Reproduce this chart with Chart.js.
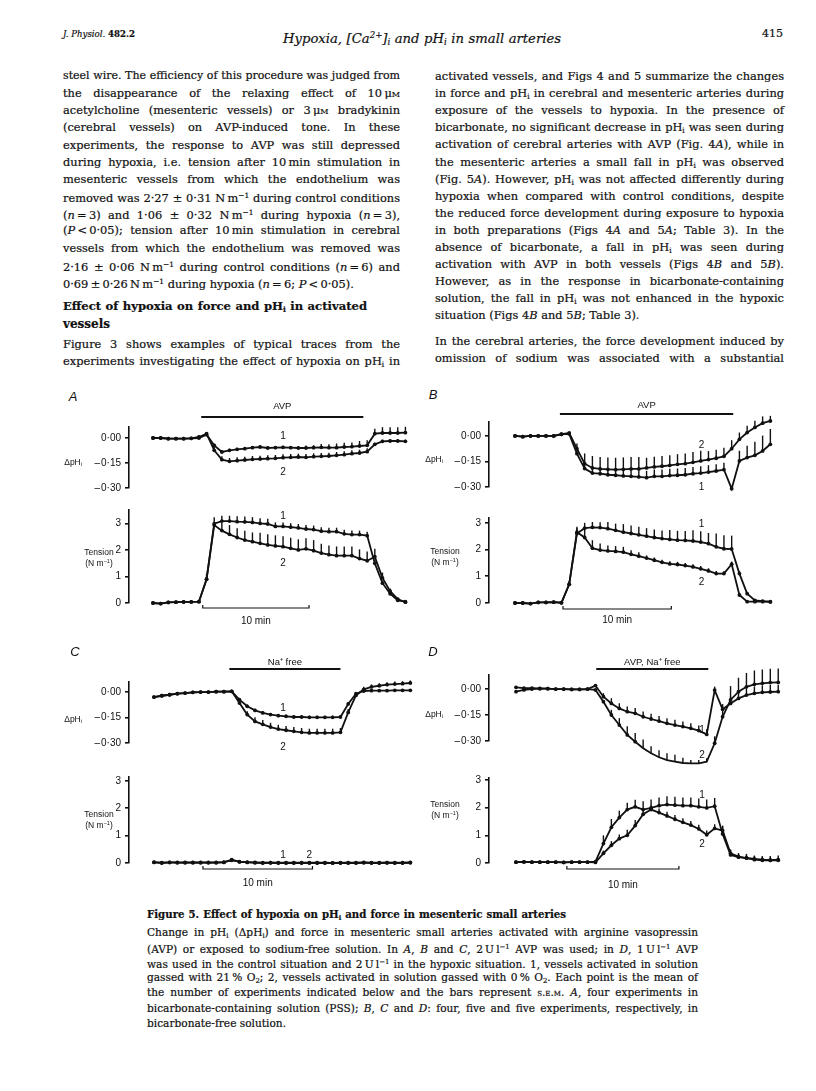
<!DOCTYPE html>
<html>
<head>
<meta charset="utf-8">
<script src="https://cdn.jsdelivr.net/npm/chart.js@4.4.1/dist/chart.umd.min.js"></script>
<style>
  body { margin: 0; background: #fff; }
  #page { position: relative; width: 816px; height: 1091px; overflow: hidden; background: #fff; color: #111;
          font-family: "DejaVu Serif", "Liberation Serif", serif; }
  .ln { position: absolute; white-space: nowrap; line-height: 16px; height: 16px; -webkit-text-stroke: 0.2px #111; }
  .sb { font-size: 65%; vertical-align: -0.28em; }
  .sp { font-size: 65%; vertical-align: 0.55em; }
  .sc { font-variant: small-caps; }
  .lab { position: absolute; white-space: nowrap; font-family: "Liberation Sans", Arial, sans-serif; font-size: 8.5px;
         line-height: 10px; color: #111; }
  .pl { font-size: 13px; font-style: italic; }
  canvas { position: absolute; }
</style>
</head>
<body>
<div id="page"></div>
<script>
// sample number along each trace (about 43 s apart, 14 samples = 10 min)
const sampleIdx = [0,1,2,3,4,5,6,7,8,9,10,11,12,13,14,15,16,17,18,19,20,21,22,23,24,25,26,27,28,29,30,31,32,33];

// A: PSS, AVP
const pHA1 = [0,0,-0.004,-0.004,-0.004,-0.002,0,0.02,-0.044,-0.084,-0.074,-0.068,-0.064,-0.058,-0.054,-0.06,-0.058,-0.056,-0.058,-0.06,-0.06,-0.058,-0.056,-0.058,-0.058,-0.054,-0.052,-0.048,-0.044,0.026,0.03,0.03,0.03,0.032];
const pHA2 = [0,0,-0.004,-0.004,-0.004,-0.002,0.006,0.026,-0.074,-0.13,-0.14,-0.136,-0.132,-0.128,-0.126,-0.124,-0.122,-0.118,-0.116,-0.114,-0.116,-0.112,-0.11,-0.108,-0.104,-0.1,-0.094,-0.09,-0.082,-0.038,-0.02,-0.018,-0.018,-0.02];
const pHA1e = [0,0,0,0,0,0,0.01,0.01,0.01,0.01,0.01,0.01,0.01,0.01,0.01,0.01,0.01,0.01,0.01,0.01,0.015,0.015,0.02,0.02,0.025,0.025,0.025,0.03,0.03,0.03,0.035,0.035,0.035,0.035];
const pHA2e = [0,0,0,0,0,0,0.01,0.01,0.02,0.02,0.02,0.02,0.02,0.02,0.02,0.02,0.02,0.02,0.02,0.02,0.02,0.02,0.02,0.02,0.02,0.02,0.02,0.02,0.02,0.01,0.01,0.01,0.01,0.01];
const tenA1 = [0,-0.02,0.02,0.03,0.04,0.04,0.05,0.9,3.0,3.1,3.1,3.08,3.07,3.05,3.01,2.99,2.9,2.9,2.87,2.84,2.8,2.78,2.72,2.7,2.7,2.62,2.59,2.59,2.55,1.5,0.75,0.35,0.1,0.05];
const tenA2 = [0,-0.02,0.02,0.03,0.04,0.04,0.05,0.9,2.95,2.74,2.6,2.48,2.38,2.32,2.26,2.2,2.16,2.13,2.07,2.01,2.05,1.98,1.89,1.83,1.79,1.79,1.79,1.68,1.6,1.75,0.95,0.45,0.15,0.03];
const tenA1e = [0,0,0,0,0,0,0,0.2,0.25,0.2,0.2,0.2,0.2,0.2,0.2,0.2,0.15,0.15,0.15,0.15,0.15,0.15,0.15,0.15,0.15,0.15,0.15,0.15,0.15,0.15,0.1,0.1,0.05,0];
const tenA2e = [0,0,0,0,0,0,0,0.1,0.1,0.3,0.35,0.35,0.35,0.35,0.4,0.4,0.4,0.4,0.4,0.4,0.4,0.4,0.35,0.35,0.35,0.35,0.35,0.35,0.35,0.3,0.2,0.1,0.05,0];

// B: bicarbonate-free, AVP
const pHB1 = [0,-0.004,0,0,0,0,0.01,0.012,-0.104,-0.192,-0.218,-0.222,-0.228,-0.231,-0.235,-0.237,-0.241,-0.245,-0.237,-0.237,-0.233,-0.231,-0.228,-0.222,-0.218,-0.212,-0.206,-0.198,-0.31,-0.147,-0.127,-0.114,-0.088,-0.049];
const pHB2 = [0,-0.004,0,0,0,0,0.01,0.018,-0.075,-0.163,-0.188,-0.194,-0.196,-0.198,-0.196,-0.194,-0.194,-0.188,-0.182,-0.178,-0.173,-0.167,-0.163,-0.155,-0.147,-0.139,-0.131,-0.12,-0.075,-0.02,0.02,0.05,0.075,0.088];
const pHB1e = [0,0,0,0,0,0,0,0,0.02,0.03,0.04,0.04,0.04,0.04,0.04,0.04,0.04,0.04,0.04,0.04,0.04,0.04,0.04,0.04,0.04,0.04,0.04,0.04,0,0.06,0.07,0.08,0.09,0.09];
const pHB2e = [0,0,0,0,0,0,0,0,0.03,0.06,0.07,0.07,0.07,0.07,0.07,0.07,0.07,0.06,0.06,0.06,0.06,0.06,0.06,0.06,0.06,0.05,0.05,0.05,0.05,0.04,0.04,0.04,0.04,0.03];
const tenB1 = [0,0,-0.02,0.02,0.02,0.03,0.01,0.7,2.6,2.8,2.83,2.82,2.78,2.72,2.65,2.6,2.55,2.5,2.45,2.41,2.38,2.35,2.34,2.32,2.28,2.22,2.1,2.03,2.02,1.1,0.35,0.1,0.07,0.05];
const tenB2 = [0,0,-0.02,0.02,0.02,0.03,0.01,0.7,2.65,2.45,2.05,1.98,1.95,1.93,1.9,1.82,1.75,1.68,1.6,1.52,1.46,1.44,1.4,1.35,1.28,1.2,1.1,1.1,1.45,0.3,0.05,0.05,0.05,0.04];
const tenB1e = [0,0,0,0,0,0,0,0.1,0.2,0.2,0.2,0.2,0.25,0.25,0.3,0.3,0.3,0.3,0.3,0.3,0.35,0.35,0.35,0.4,0.4,0.4,0.5,0.5,0.5,0.1,0.05,0,0,0];
const tenB2e = [0,0,0,0,0,0,0,0.1,0.2,0.3,0.3,0.25,0.2,0.2,0.2,0.15,0.15,0.1,0.1,0.1,0.1,0.1,0.1,0.1,0.1,0.1,0.1,0.1,0.1,0.05,0,0,0,0];

// C: bicarbonate-free, Na+ free
const pHC1 = [-0.03,-0.022,-0.016,-0.01,-0.006,-0.002,0,0,0.002,0.002,0.004,-0.045,-0.084,-0.108,-0.123,-0.133,-0.139,-0.143,-0.147,-0.147,-0.149,-0.149,-0.149,-0.149,-0.147,-0.07,-0.01,0.006,0.008,0.008,0.008,0.01,0.01,0.01];
const pHC2 = [-0.03,-0.022,-0.016,-0.01,-0.006,-0.002,0,0,0.002,0.002,0.004,-0.065,-0.133,-0.173,-0.19,-0.206,-0.218,-0.225,-0.231,-0.237,-0.241,-0.241,-0.241,-0.241,-0.237,-0.12,-0.02,0.016,0.03,0.037,0.043,0.047,0.049,0.053];
const pHC1e = [0,0,0,0,0,0,0,0,0,0,0,0.005,0.01,0.01,0.01,0.01,0.01,0.01,0.01,0.01,0.01,0.01,0.01,0.01,0.01,0.01,0.01,0.005,0.005,0.005,0.005,0.005,0.005,0.005];
const pHC2e = [0,0,0,0,0,0,0,0,0,0,0,0.01,0.02,0.025,0.025,0.025,0.025,0.025,0.025,0.025,0.025,0.025,0.025,0.025,0.025,0.02,0.015,0.015,0.015,0.015,0.015,0.015,0.015,0.015];
const tenC1 = [0.03,0,0.02,0.02,0.01,0.02,0.02,0.01,0.02,0.02,0.12,0.04,0.03,0.01,0.01,0.01,0,0.01,0,0.01,0.01,0,0,0,0.01,0,0.01,0.02,0,0.01,0.01,0,0.01,0.02];
const tenC2 = [0.02,0.01,0.02,0.01,0.02,0.01,0.01,0.02,0.01,0.03,0.1,0.05,0.02,0.02,0,0.01,0.01,0,0.01,0,0,0.01,0.01,0,0,0.01,0,0.01,0.01,0,0.01,0.01,0,0.01];

// D: bicarbonate-free, AVP + Na+ free
const pHD1 = [0.01,0.005,0.005,0.003,0.002,0,0,-0.002,-0.002,0,0.02,-0.044,-0.083,-0.112,-0.131,-0.14,-0.16,-0.173,-0.185,-0.198,-0.208,-0.217,-0.227,-0.24,-0.262,-0.006,-0.117,-0.083,-0.054,-0.035,-0.025,-0.019,-0.017,-0.015];
const pHD2 = [-0.015,-0.005,0,0.002,0.002,0,0,-0.002,-0.002,0,-0.005,-0.073,-0.15,-0.208,-0.265,-0.304,-0.342,-0.371,-0.394,-0.41,-0.419,-0.427,-0.429,-0.429,-0.419,-0.313,-0.16,-0.063,-0.015,0.013,0.027,0.033,0.037,0.038];
const pHD1e = [0,0,0,0,0,0,0,0,0,0,0,0.02,0.03,0.03,0.03,0.03,0.03,0.03,0.03,0.03,0.03,0.03,0.03,0.03,0.03,0.02,0.03,0.04,0.04,0.04,0.04,0.04,0.04,0.04];
const pHD2e = [0,0,0,0,0,0,0,0,0,0,0,0,0.03,0.04,0.05,0.05,0.05,0.04,0.04,0.04,0.04,0.03,0.02,0.02,0.02,0.04,0.06,0.08,0.08,0.08,0.08,0.08,0.08,0.08];
const tenD1 = [0.03,0.04,0.03,0.03,0.03,0.03,0.02,0.03,0.03,0.03,0.05,0.7,1.29,1.64,1.93,2.03,1.93,1.99,2.07,2.11,2.09,2.07,2.07,2.03,1.99,2.05,1.05,0.29,0.21,0.18,0.12,0.1,0.1,0.12];
const tenD2 = [0.03,0.04,0.03,0.03,0.03,0.03,0.02,0.03,0.03,0.03,0.02,0.35,0.64,0.88,1.0,1.35,1.76,1.93,1.82,1.7,1.58,1.47,1.37,1.23,1.02,1.25,1.17,0.35,0.23,0.18,0.15,0.12,0.1,0.1];
const tenD1e = [0,0,0,0,0,0,0,0,0,0,0,0.3,0.3,0.25,0.25,0.25,0.3,0.3,0.3,0.3,0.3,0.3,0.3,0.3,0.3,0.3,0.3,0.2,0.15,0.15,0.15,0.15,0.15,0.15];
const tenD2e = [0,0,0,0,0,0,0,0,0,0,0,0.1,0.15,0.15,0.2,0.2,0.15,0.15,0.15,0.15,0.15,0.15,0.15,0.15,0.15,0.15,0.15,0.1,0.1,0.1,0.1,0.1,0.1,0.1];

const pHTicks = [-0.30, -0.15, 0];
const tensionTicks = [0, 1, 2, 3];

const INK = '#111';
const SANS = '"Liberation Sans", Arial, sans-serif';
const AXW = 50;
const page = document.getElementById('page');

// the print uses a long dash for the minus sign
const fmtPH = v => (v < 0 ? '\u2013\u200a' : '') + Math.abs(v).toFixed(2).replace('.', '\u00b7');
const fmtTen = v => String(v);

// error bars, curve numbers, stimulus bar and time scale bar
const figNotes = {
  id: 'figNotes',
  afterDatasetsDraw(chart) {
    const { ctx, scales: { x, y } } = chart;
    ctx.save();
    ctx.strokeStyle = INK;
    ctx.lineWidth = 1.4;
    chart.data.datasets.forEach(ds => {
      ds.data.forEach((p, i) => {
        const e = ds.err[i];
        if (!e) return;
        const px = x.getPixelForValue(p.x);
        ctx.beginPath();
        ctx.moveTo(px, y.getPixelForValue(p.y));
        ctx.lineTo(px, y.getPixelForValue(p.y + e));
        ctx.stroke();
      });
    });
    ctx.restore();
  },
  afterDraw(chart, args, o) {
    const { ctx, scales: { x, y } } = chart;
    const top = o.canvasTop;
    ctx.save();
    ctx.fillStyle = INK;
    ctx.strokeStyle = INK;
    ctx.font = '10px ' + SANS;
    ctx.textAlign = 'center';
    ctx.textBaseline = 'middle';
    (o.curveLabels || []).forEach(l => ctx.fillText(l.s, x.getPixelForValue(l.t), y.getPixelForValue(l.v)));
    if (o.stim) {
      const a = x.getPixelForValue(o.stim.from), b = x.getPixelForValue(o.stim.to);
      const by = o.stim.y - top;
      ctx.lineWidth = 1.8;
      ctx.beginPath(); ctx.moveTo(a, by); ctx.lineTo(b, by); ctx.stroke();
      ctx.font = '9.5px ' + SANS;
      ctx.fillText(o.stim.text, (a + b) / 2, o.stim.textY - top);
    }
    if (o.timeBar) {
      const a = x.getPixelForValue(o.timeBar.from), b = x.getPixelForValue(o.timeBar.to);
      const by = o.timeBar.y - top;
      ctx.lineWidth = 1.2;
      ctx.beginPath();
      ctx.moveTo(a, by - 3); ctx.lineTo(a, by); ctx.lineTo(b, by); ctx.lineTo(b, by - 3);
      ctx.stroke();
      ctx.font = '10px ' + SANS;
      ctx.fillText('10 min', (a + b) / 2, o.timeBar.textY - top);
    }
    ctx.restore();
  }
};

function plot(p) {
  const padTop = p.padTop, padBottom = p.padBottom, padRight = 4;
  const xMin = -(p.xStart - p.axisX) / p.step;
  const xMax = 33.6;
  const left = p.axisX - AXW;
  const top = p.axisTop - padTop;
  const width = AXW + (xMax - xMin) * p.step + padRight;
  const height = padTop + (p.axisBottom - p.axisTop) + padBottom;
  const cv = document.createElement('canvas');
  cv.width = Math.round(width); cv.height = Math.round(height);
  cv.style.left = left + 'px'; cv.style.top = top + 'px';
  page.appendChild(cv);
  new Chart(cv.getContext('2d'), {
    type: 'line',
    data: {
      datasets: p.series.map(s => ({
        data: sampleIdx.map((t, i) => ({ x: t, y: s.y[i] })),
        err: s.e || sampleIdx.map(() => 0),
        borderColor: INK, borderWidth: 1.8,
        pointRadius: 1.9, pointBackgroundColor: INK, pointBorderWidth: 0,
        tension: 0, clip: false
      }))
    },
    options: {
      responsive: false, animation: false, devicePixelRatio: 1,
      layout: { padding: { top: padTop, bottom: padBottom, left: 0, right: padRight } },
      plugins: {
        legend: { display: false }, tooltip: { enabled: false },
        figNotes: { canvasTop: top, curveLabels: p.curveLabels, stim: p.stim, timeBar: p.timeBar }
      },
      scales: {
        x: { type: 'linear', min: xMin, max: xMax, display: false },
        y: {
          min: p.yMin, max: p.yMax,
          afterFit(s) { s.width = AXW; },
          afterBuildTicks(s) { s.ticks = p.ticks.map(v => ({ value: v })); },
          border: { display: true, color: INK, width: 1.6 },
          grid: { drawOnChartArea: false, drawTicks: true, tickLength: 4, color: INK, lineWidth: 1.6 },
          ticks: { color: INK, padding: 4, font: { family: SANS, size: 10 }, callback: p.fmt }
        }
      }
    },
    plugins: [figNotes]
  });
}

// ---- panel A ----
plot({ axisX: 129, axisTop: 427, axisBottom: 488, xStart: 153, step: 7.64, yMin: -0.30, yMax: 0.066,
  ticks: pHTicks, fmt: fmtPH, padTop: 34, padBottom: 30,
  series: [{ y: pHA1, e: pHA1e }, { y: pHA2, e: pHA2e }],
  curveLabels: [{ t: 17, v: 0.012, s: '1' }, { t: 17, v: -0.204, s: '2' }],
  stim: { from: 6.3, to: 27.5, y: 417, text: 'AVP', textY: 406 } });
plot({ axisX: 129, axisTop: 508, axisBottom: 603, xStart: 153, step: 7.64, yMin: 0, yMax: 3.52,
  ticks: tensionTicks, fmt: fmtTen, padTop: 8, padBottom: 26,
  series: [{ y: tenA1, e: tenA1e }, { y: tenA2, e: tenA2e }],
  curveLabels: [{ t: 17, v: 3.3, s: '1' }, { t: 17, v: 1.52, s: '2' }],
  timeBar: { from: 6.5, to: 20.4, y: 608, textY: 621 } });

// ---- panel B ----
plot({ axisX: 489, axisTop: 422, axisBottom: 487, xStart: 515, step: 7.73, yMin: -0.30, yMax: 0.082,
  ticks: pHTicks, fmt: fmtPH, padTop: 34, padBottom: 30,
  series: [{ y: pHB1, e: pHB1e }, { y: pHB2, e: pHB2e }],
  curveLabels: [{ t: 24.1, v: -0.054, s: '2' }, { t: 24.1, v: -0.302, s: '1' }],
  stim: { from: 5.8, to: 28.2, y: 414, text: 'AVP', textY: 405 } });
plot({ axisX: 489, axisTop: 516, axisBottom: 603, xStart: 515, step: 7.73, yMin: 0, yMax: 3.18,
  ticks: tensionTicks, fmt: fmtTen, padTop: 8, padBottom: 26,
  series: [{ y: tenB1, e: tenB1e }, { y: tenB2, e: tenB2e }],
  curveLabels: [{ t: 24.1, v: 2.93, s: '1' }, { t: 24.1, v: 0.77, s: '2' }],
  timeBar: { from: 6.2, to: 20.2, y: 609, textY: 620 } });

// ---- panel C ----
plot({ axisX: 129, axisTop: 682, axisBottom: 743, xStart: 154, step: 7.76, yMin: -0.30, yMax: 0.059,
  ticks: pHTicks, fmt: fmtPH, padTop: 34, padBottom: 30,
  series: [{ y: pHC1, e: pHC1e }, { y: pHC2, e: pHC2e }],
  curveLabels: [{ t: 16.6, v: -0.094, s: '1' }, { t: 16.6, v: -0.324, s: '2' }],
  stim: { from: 9.7, to: 24.0, y: 669, text: 'Na\u207a free', textY: 662 } });
plot({ axisX: 129, axisTop: 775, axisBottom: 863, xStart: 154, step: 7.76, yMin: 0, yMax: 3.14,
  ticks: tensionTicks, fmt: fmtTen, padTop: 8, padBottom: 26,
  series: [{ y: tenC1 }, { y: tenC2 }],
  curveLabels: [{ t: 16.6, v: 0.29, s: '1' }, { t: 20.0, v: 0.29, s: '2' }],
  timeBar: { from: 6.3, to: 20.4, y: 869, textY: 883 } });

// ---- panel D ----
plot({ axisX: 489, axisTop: 675, axisBottom: 741, xStart: 516, step: 7.94, yMin: -0.30, yMax: 0.081,
  ticks: pHTicks, fmt: fmtPH, padTop: 34, padBottom: 30,
  series: [{ y: pHD1, e: pHD1e }, { y: pHD2, e: pHD2e }],
  curveLabels: [{ t: 23.4, v: -0.237, s: '1' }, { t: 23.4, v: -0.381, s: '2' }],
  stim: { from: 10.1, to: 24.2, y: 669, text: 'AVP, Na\u207a free', textY: 662 } });
plot({ axisX: 489, axisTop: 776, axisBottom: 863, xStart: 516, step: 7.94, yMin: 0, yMax: 3.07,
  ticks: tensionTicks, fmt: fmtTen, padTop: 8, padBottom: 26,
  series: [{ y: tenD1, e: tenD1e }, { y: tenD2, e: tenD2e }],
  curveLabels: [{ t: 23.4, v: 2.43, s: '1' }, { t: 23.4, v: 0.67, s: '2' }],
  timeBar: { from: 6.4, to: 20.5, y: 869, textY: 885 } });

// ---- figure labels (HTML text) ----
function lab(html, x, y, cls, align) {
  const d = document.createElement('div');
  d.className = 'lab' + (cls ? ' ' + cls : '');
  d.innerHTML = html;
  d.style.left = x + 'px'; d.style.top = y + 'px';
  d.style.transform = align === 'right' ? 'translate(-100%,-50%)' : 'translate(-50%,-50%)';
  page.appendChild(d);
}
const dpH = '\u0394pH<span class="sb">i</span>';
const tenLab = 'Tension<br>(N m<span class="sp">\u22121</span>)';
[['A', 73, 397, 82, 463, 99, 558], ['B', 433, 395, 443, 460, 445, 557],
 ['C', 75, 652, 82, 720, 99, 820], ['D', 433, 652, 443, 715, 445, 810]].forEach(([L, lx, ly, px, py, tx, ty]) => {
  lab(L, lx, ly, 'pl');
  lab(dpH, px, py, '', 'right');
  const t = document.createElement('div');
  t.className = 'lab';
  t.style.textAlign = 'center';
  t.style.lineHeight = '9px';
  t.innerHTML = tenLab;
  t.style.left = tx + 'px'; t.style.top = ty + 'px';
  t.style.transform = 'translate(-50%,-50%)';
  page.appendChild(t);
});

// ---- page text ----
function line(x, y, w, html, size, justify, style) {
  const d = document.createElement('div');
  d.className = 'ln';
  d.style.left = x + 'px';
  d.style.top = (y - 9) + 'px';
  d.style.width = w + 'px';
  d.style.fontSize = size + 'px';
  if (style) d.style.cssText += style;
  d.innerHTML = '<span>' + html + '</span>';
  page.appendChild(d);
  const sp = d.firstChild;
  let fs = size;
  while (sp.getBoundingClientRect().width > w && fs > 8) { fs -= 0.2; d.style.fontSize = fs + 'px'; }
  if (justify) {
    const n = (sp.textContent.match(/ /g) || []).length;
    if (n) sp.style.wordSpacing = ((w - sp.getBoundingClientRect().width) / n) + 'px';
  }
}

const sub = '<span class="sb">i</span>';
const inv = '<span class="sp">\u22121</span>';
const th = '\u2009';

line(63, 35, 72, '<i>J. Physiol.</i> <b>482.2</b>', 9, false);
line(283, 36, 278, '<i>Hypoxia, [Ca<span class="sp">2+</span>]' + sub + ' and pH' + sub + ' in small arteries</i>', 14, true);
line(762, 35, 24, '415', 11, false);

const leftCol = [
  'steel wire. The efficiency of this procedure was judged from',
  'the disappearance of the relaxing effect of 10' + th + '\u03bc<span class="sc">m</span>',
  'acetylcholine (mesenteric vessels) or 3' + th + '\u03bc<span class="sc">m</span> bradykinin',
  '(cerebral vessels) on AVP-induced tone. In these',
  'experiments, the response to AVP was still depressed',
  'during hypoxia, i.e. tension after 10' + th + 'min stimulation in',
  'mesenteric vessels from which the endothelium was',
  'removed was 2\u00b727 \u00b1 0\u00b731 N' + th + 'm' + inv + ' during control conditions',
  '(<i>n</i>' + th + '=' + th + '3) and 1\u00b706 \u00b1 0\u00b732 N' + th + 'm' + inv + ' during hypoxia (<i>n</i>' + th + '=' + th + '3),',
  '(<i>P</i>' + th + '&lt;' + th + '0\u00b705); tension after 10' + th + 'min stimulation in cerebral',
  'vessels from which the endothelium was removed was',
  '2\u00b716 \u00b1 0\u00b706 N' + th + 'm' + inv + ' during control conditions (<i>n</i>' + th + '=' + th + '6) and',
  '0\u00b769' + th + '\u00b1' + th + '0\u00b726' + th + 'N' + th + 'm' + inv + ' during hypoxia (<i>n</i>' + th + '=' + th + '6; <i>P</i>' + th + '&lt;' + th + '0\u00b705).'
];
leftCol.forEach((h, k) => line(63, 77 + k * 17.15, 337, h, 11.4, k < leftCol.length - 1));
line(63, 307, 304, '<b>Effect of hypoxia on force and pH' + sub + ' in activated</b>', 12, true);
line(63, 325, 100, '<b>vessels</b>', 12, false);
line(63, 345, 337, 'Figure 3 shows examples of typical traces from the', 11.4, true);
line(63, 362, 337, 'experiments investigating the effect of hypoxia on pH' + sub + ' in', 11.4, true);

const rightCol = [
  'activated vessels, and Figs 4 and 5 summarize the changes',
  'in force and pH' + sub + ' in cerebral and mesenteric arteries during',
  'exposure of the vessels to hypoxia. In the presence of',
  'bicarbonate, no significant decrease in pH' + sub + ' was seen during',
  'activation of cerebral arteries with AVP (Fig. 4<i>A</i>), while in',
  'the mesenteric arteries a small fall in pH' + sub + ' was observed',
  '(Fig. 5<i>A</i>). However, pH' + sub + ' was not affected differently during',
  'hypoxia when compared with control conditions, despite',
  'the reduced force development during exposure to hypoxia',
  'in both preparations (Figs 4<i>A</i> and 5<i>A</i>; Table 3). In the',
  'absence of bicarbonate, a fall in pH' + sub + ' was seen during',
  'activation with AVP in both vessels (Figs 4<i>B</i> and 5<i>B</i>).',
  'However, as in the response in bicarbonate-containing',
  'solution, the fall in pH' + sub + ' was not enhanced in the hypoxic',
  'situation (Figs 4<i>B</i> and 5<i>B</i>; Table 3).'
];
rightCol.forEach((h, k) => line(435, 77 + k * 17.1, 349, h, 11.4, k < rightCol.length - 1));
line(435, 342, 349, 'In the cerebral arteries, the force development induced by', 11.4, true);
line(435, 359, 349, 'omission of sodium was associated with a substantial', 11.4, true);

line(147, 915, 419, '<b>Figure 5. Effect of hypoxia on pH' + sub + ' and force in mesenteric small arteries</b>', 10.4, true);
const caption = [
  'Change in pH' + sub + ' (\u0394pH' + sub + ') and force in mesenteric small arteries activated with arginine vasopressin',
  '(AVP) or exposed to sodium-free solution. In <i>A</i>, <i>B</i> and <i>C</i>, 2' + th + 'U' + th + 'l' + inv + ' AVP was used; in <i>D</i>, 1' + th + 'U' + th + 'l' + inv + ' AVP',
  'was used in the control situation and 2' + th + 'U' + th + 'l' + inv + ' in the hypoxic situation. 1, vessels activated in solution',
  'gassed with 21' + th + '% O<span class="sb">2</span>; 2, vessels activated in solution gassed with 0' + th + '% O<span class="sb">2</span>. Each point is the mean of',
  'the number of experiments indicated below and the bars represent <span class="sc">s.e.m.</span> <i>A</i>, four experiments in',
  'bicarbonate-containing solution (PSS); <i>B</i>, <i>C</i> and <i>D</i>: four, five and five experiments, respectively, in',
  'bicarbonate-free solution.'
];
caption.forEach((h, k) => line(147, 933 + k * 15.1, 551, h, 10.6, k < caption.length - 1));
</script>
</body>
</html>
